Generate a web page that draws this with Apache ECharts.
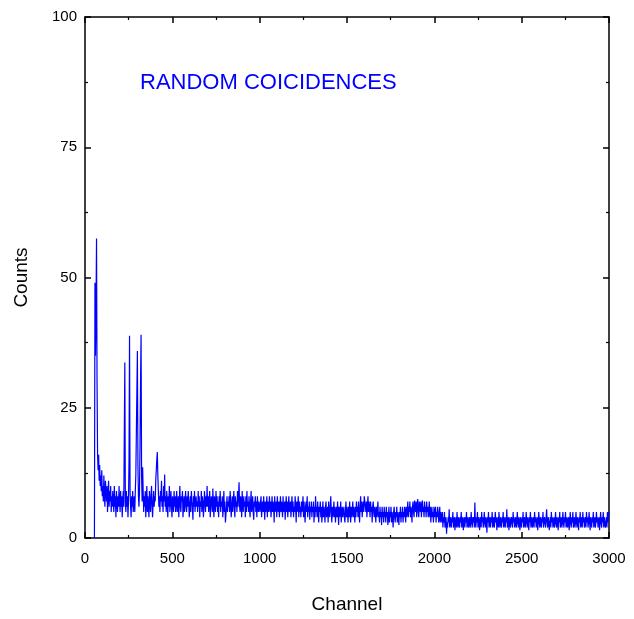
<!DOCTYPE html>
<html><head><meta charset="utf-8">
<script src="https://cdn.jsdelivr.net/npm/echarts@6/dist/echarts.min.js"></script>
<style>html,body{margin:0;padding:0;background:#fff}#c{width:634px;height:619px}</style>
</head><body><div id="c"></div>
<script>
// spectrum: counts per channel, sampled every 3 channels starting at channel 54
const channelStart = 54;
const channelStep = 3;
const counts = [
  0, 49, 35, 44, 57.5, 30, 16, 13, 16, 11, 14, 10, 12, 9, 13, 8,
  10, 7, 12, 8, 6, 11, 9, 7, 10, 5, 8, 11, 6, 9, 7, 10, 5, 8, 6, 9,
  7, 5, 10, 6, 8, 4, 9, 7, 5, 8, 6, 10, 7, 5, 9, 6, 8, 4, 7, 9,
  6, 20, 33.7, 7, 5, 9, 6, 8, 4, 7, 15, 38.8, 9, 6, 4, 8, 6, 9, 5, 7,
  8, 5, 9, 12, 20, 28, 35.9, 14, 8, 6, 9, 18, 30, 39, 12, 7, 13.6, 9, 5, 8,
  6, 9, 4, 7, 10, 5, 8, 6, 4, 9, 7, 5, 8, 10, 6, 4, 7, 9, 6, 8,
  7, 11, 13, 15, 16.5, 12, 9, 6, 8, 5, 9, 7, 11, 6, 8, 5, 10, 7, 12.2, 6,
  8, 5, 9, 7, 4, 8, 6, 10, 5, 7, 9, 6, 4, 8, 7, 5, 9, 6, 8, 5,
  7, 9, 5, 6, 8, 4, 7, 10, 6, 5, 8, 7, 9, 4, 6, 8, 5, 7, 9, 6,
  5, 8, 6, 9, 7, 4, 6, 8, 5, 9, 7, 6, 3.5, 8, 6, 9, 5, 7, 8, 6,
  7, 5, 9, 6, 8, 4, 7, 6, 9, 5, 8, 7, 4, 6, 9, 7, 5, 8, 6, 10,
  6, 8, 5, 7, 9, 4, 6, 8, 7, 5, 9.5, 6, 4, 8, 7, 5, 9, 6, 8, 5,
  7, 4, 8, 6, 9, 5, 7, 6, 8, 4, 6, 9, 5, 7, 3, 2.7, 6, 8, 5, 7,
  6, 8, 5, 9, 7, 4, 6, 8, 5, 7, 9, 6, 4, 8, 6, 7, 5, 9, 6, 8,
  10.7, 6, 5, 8, 7, 4, 9, 6, 5, 8, 6, 7, 4, 8, 5, 9, 6, 7, 5, 8,
  6, 4, 7, 9, 5, 6, 8, 5, 3.5, 7, 6, 8, 5, 7, 4, 8, 6, 5, 7, 6,
  5, 7, 8, 4, 6, 7, 5, 8, 6, 3.5, 7, 5, 6, 8, 4, 7, 5, 6, 8, 5,
  7, 4, 6, 8, 5, 7, 6, 3, 8, 5, 6, 7, 4, 8, 6, 5, 7, 4, 6, 8,
  5, 7, 6, 4, 8, 5, 6, 7, 3.5, 6, 8, 5, 7, 4, 6, 8, 5, 6, 7, 4,
  6, 8, 5, 7, 4, 6, 5, 8, 6, 3, 7, 5, 6, 8, 4, 7, 5, 6, 4, 7,
  5, 6, 8, 4, 7, 5, 3, 6, 7, 5, 8, 4, 6, 5, 7, 3.5, 6, 5, 7, 4,
  6, 5, 7, 3, 6, 4, 8, 5, 6, 4, 7, 5, 3, 6, 5, 7, 4, 6, 3, 5,
  7, 4, 6, 5, 3, 6, 7, 4, 5, 6, 3, 7, 5, 4, 6, 8, 5, 3, 6, 4,
  5, 7, 4, 6, 3, 5, 6, 4, 7, 5, 2.5, 6, 4, 5, 7, 3, 5, 6, 4, 5,
  6, 4, 3, 5, 7, 4, 6, 5, 3, 6, 4, 7, 5, 3, 6, 4, 5, 7, 4, 6,
  5, 3, 6, 4, 7, 5, 6, 4, 7, 5, 3, 6, 8, 5, 7, 4, 6, 7, 5, 8,
  7.8, 6, 5, 7, 4, 6, 8, 5, 7, 6, 4, 7, 5, 6, 3, 6, 7, 5, 4, 6,
  5, 3, 6, 4, 5, 7, 4, 5, 3, 6, 4, 5, 2.5, 6, 4, 5, 3, 6, 4, 5,
  3, 6, 4, 5, 2.5, 4, 6, 3, 5, 4, 6, 3, 5, 4, 2, 5, 6, 4, 3, 5,
  4, 6, 3, 5, 4, 2.5, 5, 4, 6, 3, 5, 4, 6, 3, 5, 4, 6, 5, 3, 6,
  4, 5, 7, 4, 6, 5, 7, 4, 6, 5, 3, 6, 7, 5, 4, 7.2, 6, 5, 7, 4,
  6, 7.5, 5, 4, 7, 6, 5, 7, 4, 6, 7.2, 5, 6, 4, 7, 5, 6, 4, 7, 5,
  6, 4, 5, 7, 4, 6, 3, 5, 6, 4, 5, 3, 6, 4, 5, 6, 3, 5, 4, 6,
  5, 3, 4, 6, 3, 5, 4, 3, 5, 2, 4, 3, 5, 2, 3, 4, 0.8, 3, 2, 4,
  3, 5.5, 2, 4, 3, 2, 4, 3, 5, 2, 3, 4, 1.5, 3, 4, 2, 5, 3, 2, 4,
  3, 2, 4, 3, 5, 2, 3, 4, 1.5, 3, 4, 2, 4, 3, 5, 2, 3, 4, 2, 3,
  4, 2, 3, 5, 3, 2, 4, 3, 4, 2, 6.8, 3, 2, 4, 3, 5, 2, 3, 4, 1.5,
  3, 4, 2, 5, 3, 4, 2, 3, 5, 3, 2, 4, 3, 1, 4, 3, 5, 2, 3, 4,
  2, 4, 3, 5, 2, 3, 4, 2, 3, 5, 3, 4, 1.5, 3, 4, 2, 5, 3, 2, 4,
  3, 2, 4, 3, 5, 2, 4, 3, 2, 4, 3, 5.5, 2, 3, 4, 1.5, 3, 4, 2, 3,
  4, 3, 2, 5, 3, 4, 2, 3, 4, 2, 3, 5, 3, 2, 4, 3, 1.5, 4, 3, 2,
  4, 3, 5, 2, 3, 4, 2, 3, 5, 3, 2, 4, 3, 1.5, 4, 3, 5, 2, 3, 4,
  2, 3, 4, 2, 5, 3, 4, 2, 3, 4, 1.5, 3, 5, 3, 2, 4, 3, 2, 4, 3,
  5, 2, 3, 4, 3, 2, 4, 5.5, 3, 2, 4, 3, 1.5, 3, 4, 2, 5, 3, 4, 2,
  3, 4, 2, 3, 5, 3, 2, 4, 3, 1.5, 4, 3, 5, 2, 3, 4, 2, 3, 5, 3,
  2, 4, 3, 5, 2, 3, 4, 2, 3, 4, 1.5, 3, 5, 3, 2, 4, 3, 5, 2, 3,
  4, 2, 3, 5, 3, 2, 4, 3, 1.5, 4, 3, 5, 2, 3, 4, 2, 5, 3, 4, 2,
  3, 4, 2, 5, 3, 4, 2, 3, 5, 3, 1.5, 4, 3, 2, 4, 3, 5, 2, 3, 4,
  2, 3, 5, 3, 4, 2, 3, 4, 1.5, 3, 5, 3, 2, 4, 3, 5, 2, 4, 3, 2,
  3, 4, 2, 5, 3, 4, 5
];
const xTicks = ['0', '500', '1000', '1500', '2000', '2500', '3000'];
const yTicks = ['0', '25', '50', '75', '100'];
const titleText = 'RANDOM COICIDENCES';

const data = counts.map((v, i) => [channelStart + i * channelStep, v]);
const font = 'Liberation Sans, Arial, sans-serif';
const axisCommon = {
  axisLine: { show: true, onZero: false, lineStyle: { color: '#000', width: 1.5 } },
  axisTick: { show: true, inside: true, length: 6, lineStyle: { color: '#000', width: 1.5 } },
  minorTick: { show: true, splitNumber: 2, length: 3, lineStyle: { color: '#000', width: 1.2 } },
  splitLine: { show: false }
};
const chart = echarts.init(document.getElementById('c'), null, { renderer: 'canvas' });
chart.setOption({
  animation: false,
  grid: { left: 85, right: 25, top: 17, bottom: 76, containLabel: false },
  xAxis: [
    Object.assign({
      type: 'value', min: 0, max: 3000, interval: 500, position: 'bottom',
      name: 'Channel', nameLocation: 'middle', nameGap: 57,
      nameTextStyle: { fontFamily: font, fontSize: 19, color: '#000' },
      axisLabel: { margin: 13, fontFamily: font, fontSize: 15, color: '#000',
        formatter: v => xTicks[Math.round(v / 500)] }
    }, axisCommon),
    Object.assign({
      type: 'value', min: 0, max: 3000, interval: 500, position: 'top',
      axisLabel: { show: false }
    }, axisCommon)
  ],
  yAxis: [
    Object.assign({
      type: 'value', min: 0, max: 100, interval: 25, position: 'left',
      name: 'Counts', nameLocation: 'middle', nameGap: 54,
      nameTextStyle: { fontFamily: font, fontSize: 19, color: '#000' },
      axisLabel: { margin: 8, fontFamily: font, fontSize: 15, color: '#000',
        formatter: v => yTicks[Math.round(v / 25)] }
    }, axisCommon),
    Object.assign({
      type: 'value', min: 0, max: 100, interval: 25, position: 'right',
      axisLabel: { show: false }
    }, axisCommon)
  ],
  graphic: [{
    type: 'text', left: 140, top: 72,
    style: { text: titleText, fill: '#0000ff', font: '22px ' + font }
  }],
  series: [{
    type: 'line', data: data, xAxisIndex: 0, yAxisIndex: 0,
    showSymbol: false, symbol: 'none', sampling: null,
    lineStyle: { color: '#0000ff', width: 1.2 }
  }]
});
</script></body></html>
